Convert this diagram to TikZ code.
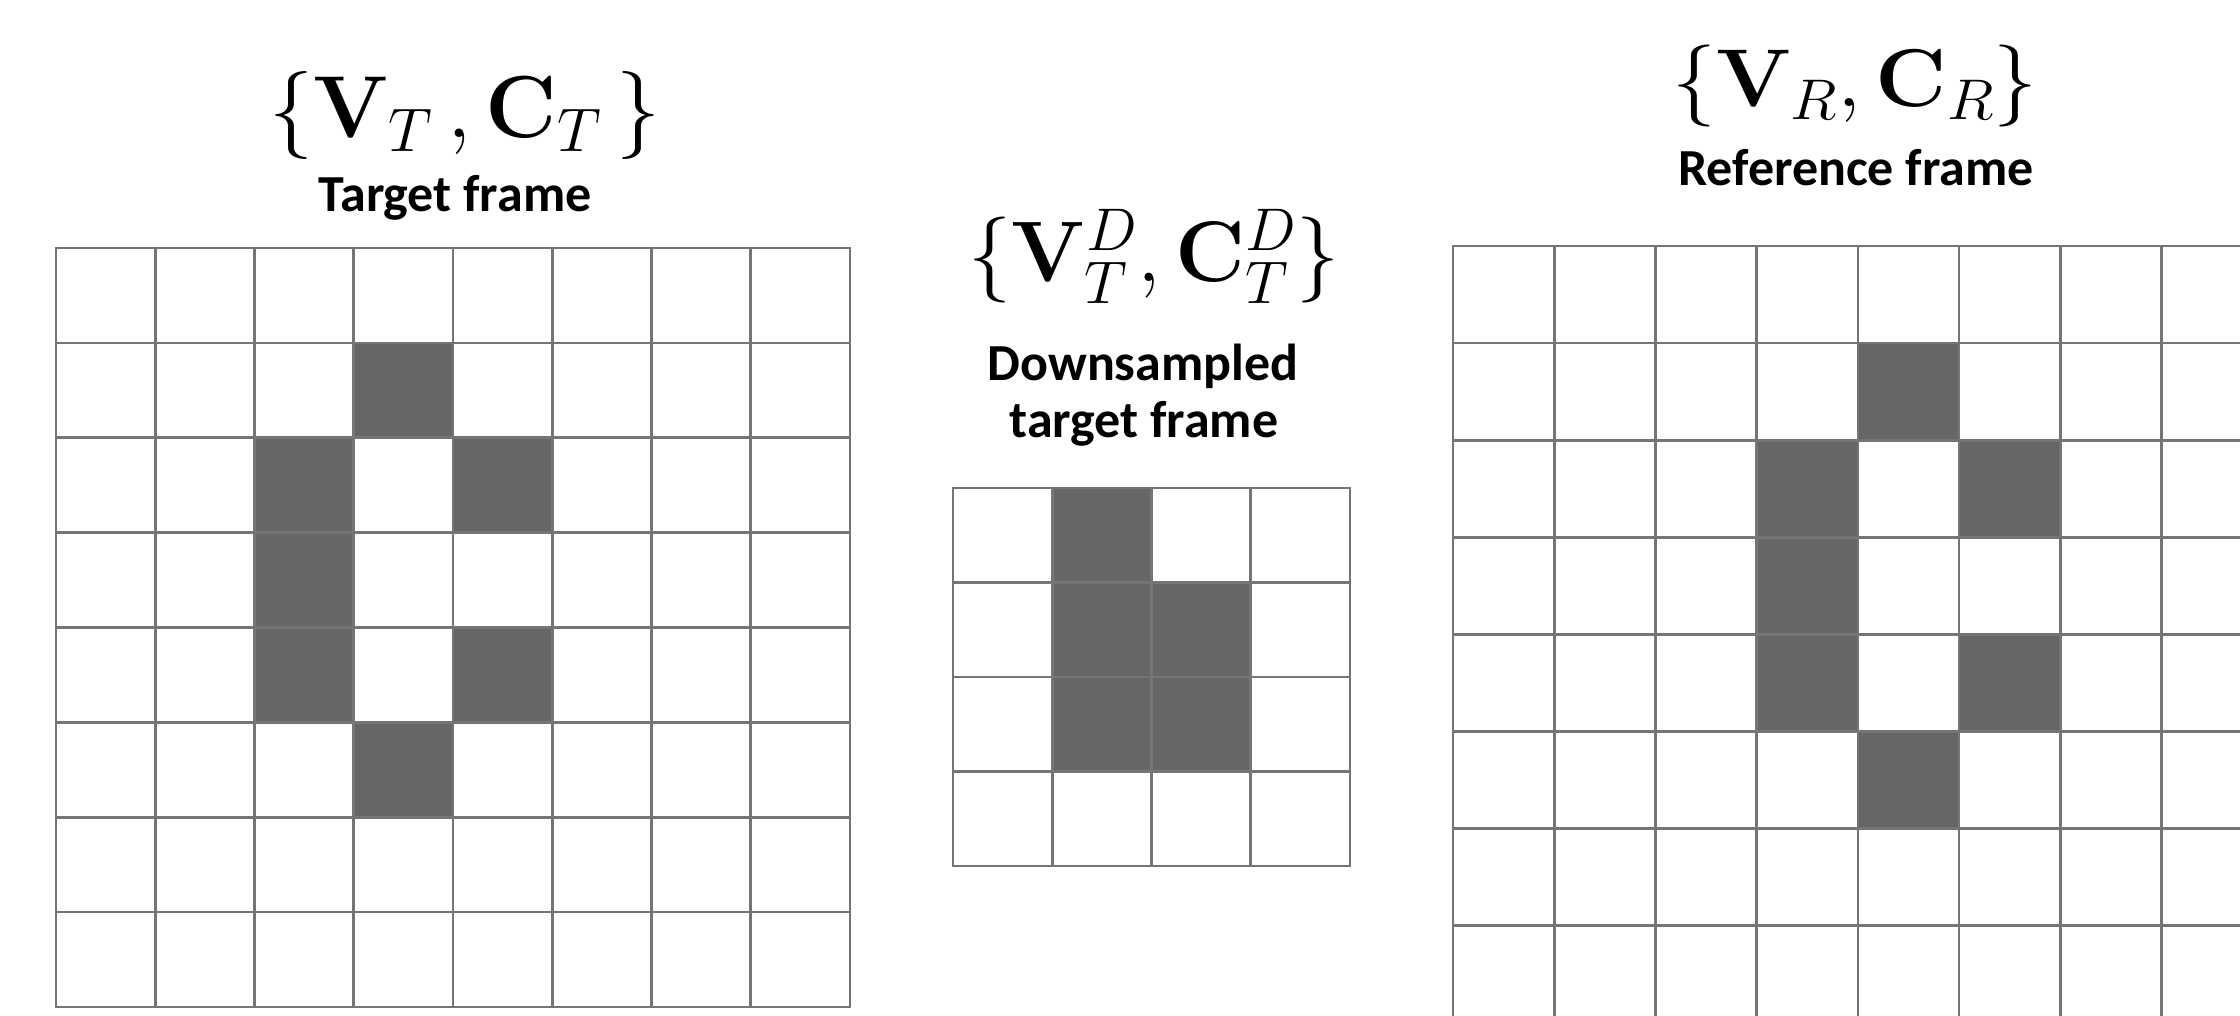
\documentclass[tikz,border=0pt]{standalone}
\usepackage{fix-cm}
\usepackage[no-math]{fontspec}
\newfontfamily\labelfont{Carlito}
\definecolor{cellgray}{HTML}{666666}
\definecolor{linegray}{HTML}{757575}

\begin{document}
\begin{tikzpicture}[x=1pt,y=-1pt,
  gridline/.style={draw=linegray,line width=2.6pt,line cap=rect},
  cellfill/.style={fill=cellgray},
  mathlabel/.style={anchor=base,inner sep=0pt,font=\fontsize{88}{100}\selectfont},
  caption/.style={anchor=base,inner sep=0pt,font=\labelfont\bfseries\fontsize{52}{57}\selectfont}]

\useasboundingbox[fill=white] (0,0) rectangle (2240,1016);
\clip (0,0) rectangle (2240,1016);

% ---------- target frame (8x8) ----------
\def\tx{56}\def\ty{248}\def\tw{99.25}\def\th{94.875}
\foreach \c/\r in {3/1,2/2,4/2,2/3,2/4,4/4,3/5}
  \fill[cellfill] ({\tx+\c*\tw},{\ty+\r*\th}) rectangle ++(\tw,\th);
\foreach \i in {0,...,8} {
  \draw[gridline] ({\tx+\i*\tw},\ty) -- ({\tx+\i*\tw},{\ty+8*\th});
  \draw[gridline] (\tx,{\ty+\i*\th}) -- ({\tx+8*\tw},{\ty+\i*\th});
}
\node[mathlabel] (tmath) at (465,138) {$\{\mathbf{V}_{T}\,,\mathbf{C}_{T}\,\}$};
\node[caption] (tcap) at (455,212) {Target frame};

% ---------- downsampled target frame (4x4) ----------
\def\dx{953}\def\dy{488}\def\dw{99.25}\def\dh{94.5}
\foreach \c/\r in {1/0,1/1,2/1,1/2,2/2}
  \fill[cellfill] ({\dx+\c*\dw},{\dy+\r*\dh}) rectangle ++(\dw,\dh);
\foreach \i in {0,...,4} {
  \draw[gridline] ({\dx+\i*\dw},\dy) -- ({\dx+\i*\dw},{\dy+4*\dh});
  \draw[gridline] (\dx,{\dy+\i*\dh}) -- ({\dx+4*\dw},{\dy+\i*\dh});
}
\node[mathlabel,font=\fontsize{86}{100}\selectfont] (dmath) at (1154,282) {$\{\mathbf{V}^{D}_{T},\mathbf{C}^{D}_{T}\}$};
\node[caption] (dcapa) at (1143,380) {Downsampled};
\node[caption] (dcapb) at (1144,437) {target frame};

% ---------- reference frame (8x8, runs off the page) ----------
\def\rx{1453}\def\ry{246}\def\rw{101.2}\def\rh{97.1}
\foreach \c/\r in {4/1,3/2,5/2,3/3,3/4,5/4,4/5}
  \fill[cellfill] ({\rx+\c*\rw},{\ry+\r*\rh}) rectangle ++(\rw,\rh);
\foreach \i in {0,...,8} {
  \draw[gridline] ({\rx+\i*\rw},\ry) -- ({\rx+\i*\rw},{\ry+8*\rh});
  \draw[gridline] (\rx,{\ry+\i*\rh}) -- ({\rx+8*\rw},{\ry+\i*\rh});
}
\node[mathlabel,font=\fontsize{82}{96}\selectfont,xscale=1.07] (rmath) at (1855,107) {$\{\mathbf{V}_{R},\mathbf{C}_{R}\}$};
\node[caption] (rcap) at (1856,186) {Reference frame};

\end{tikzpicture}
\end{document}
